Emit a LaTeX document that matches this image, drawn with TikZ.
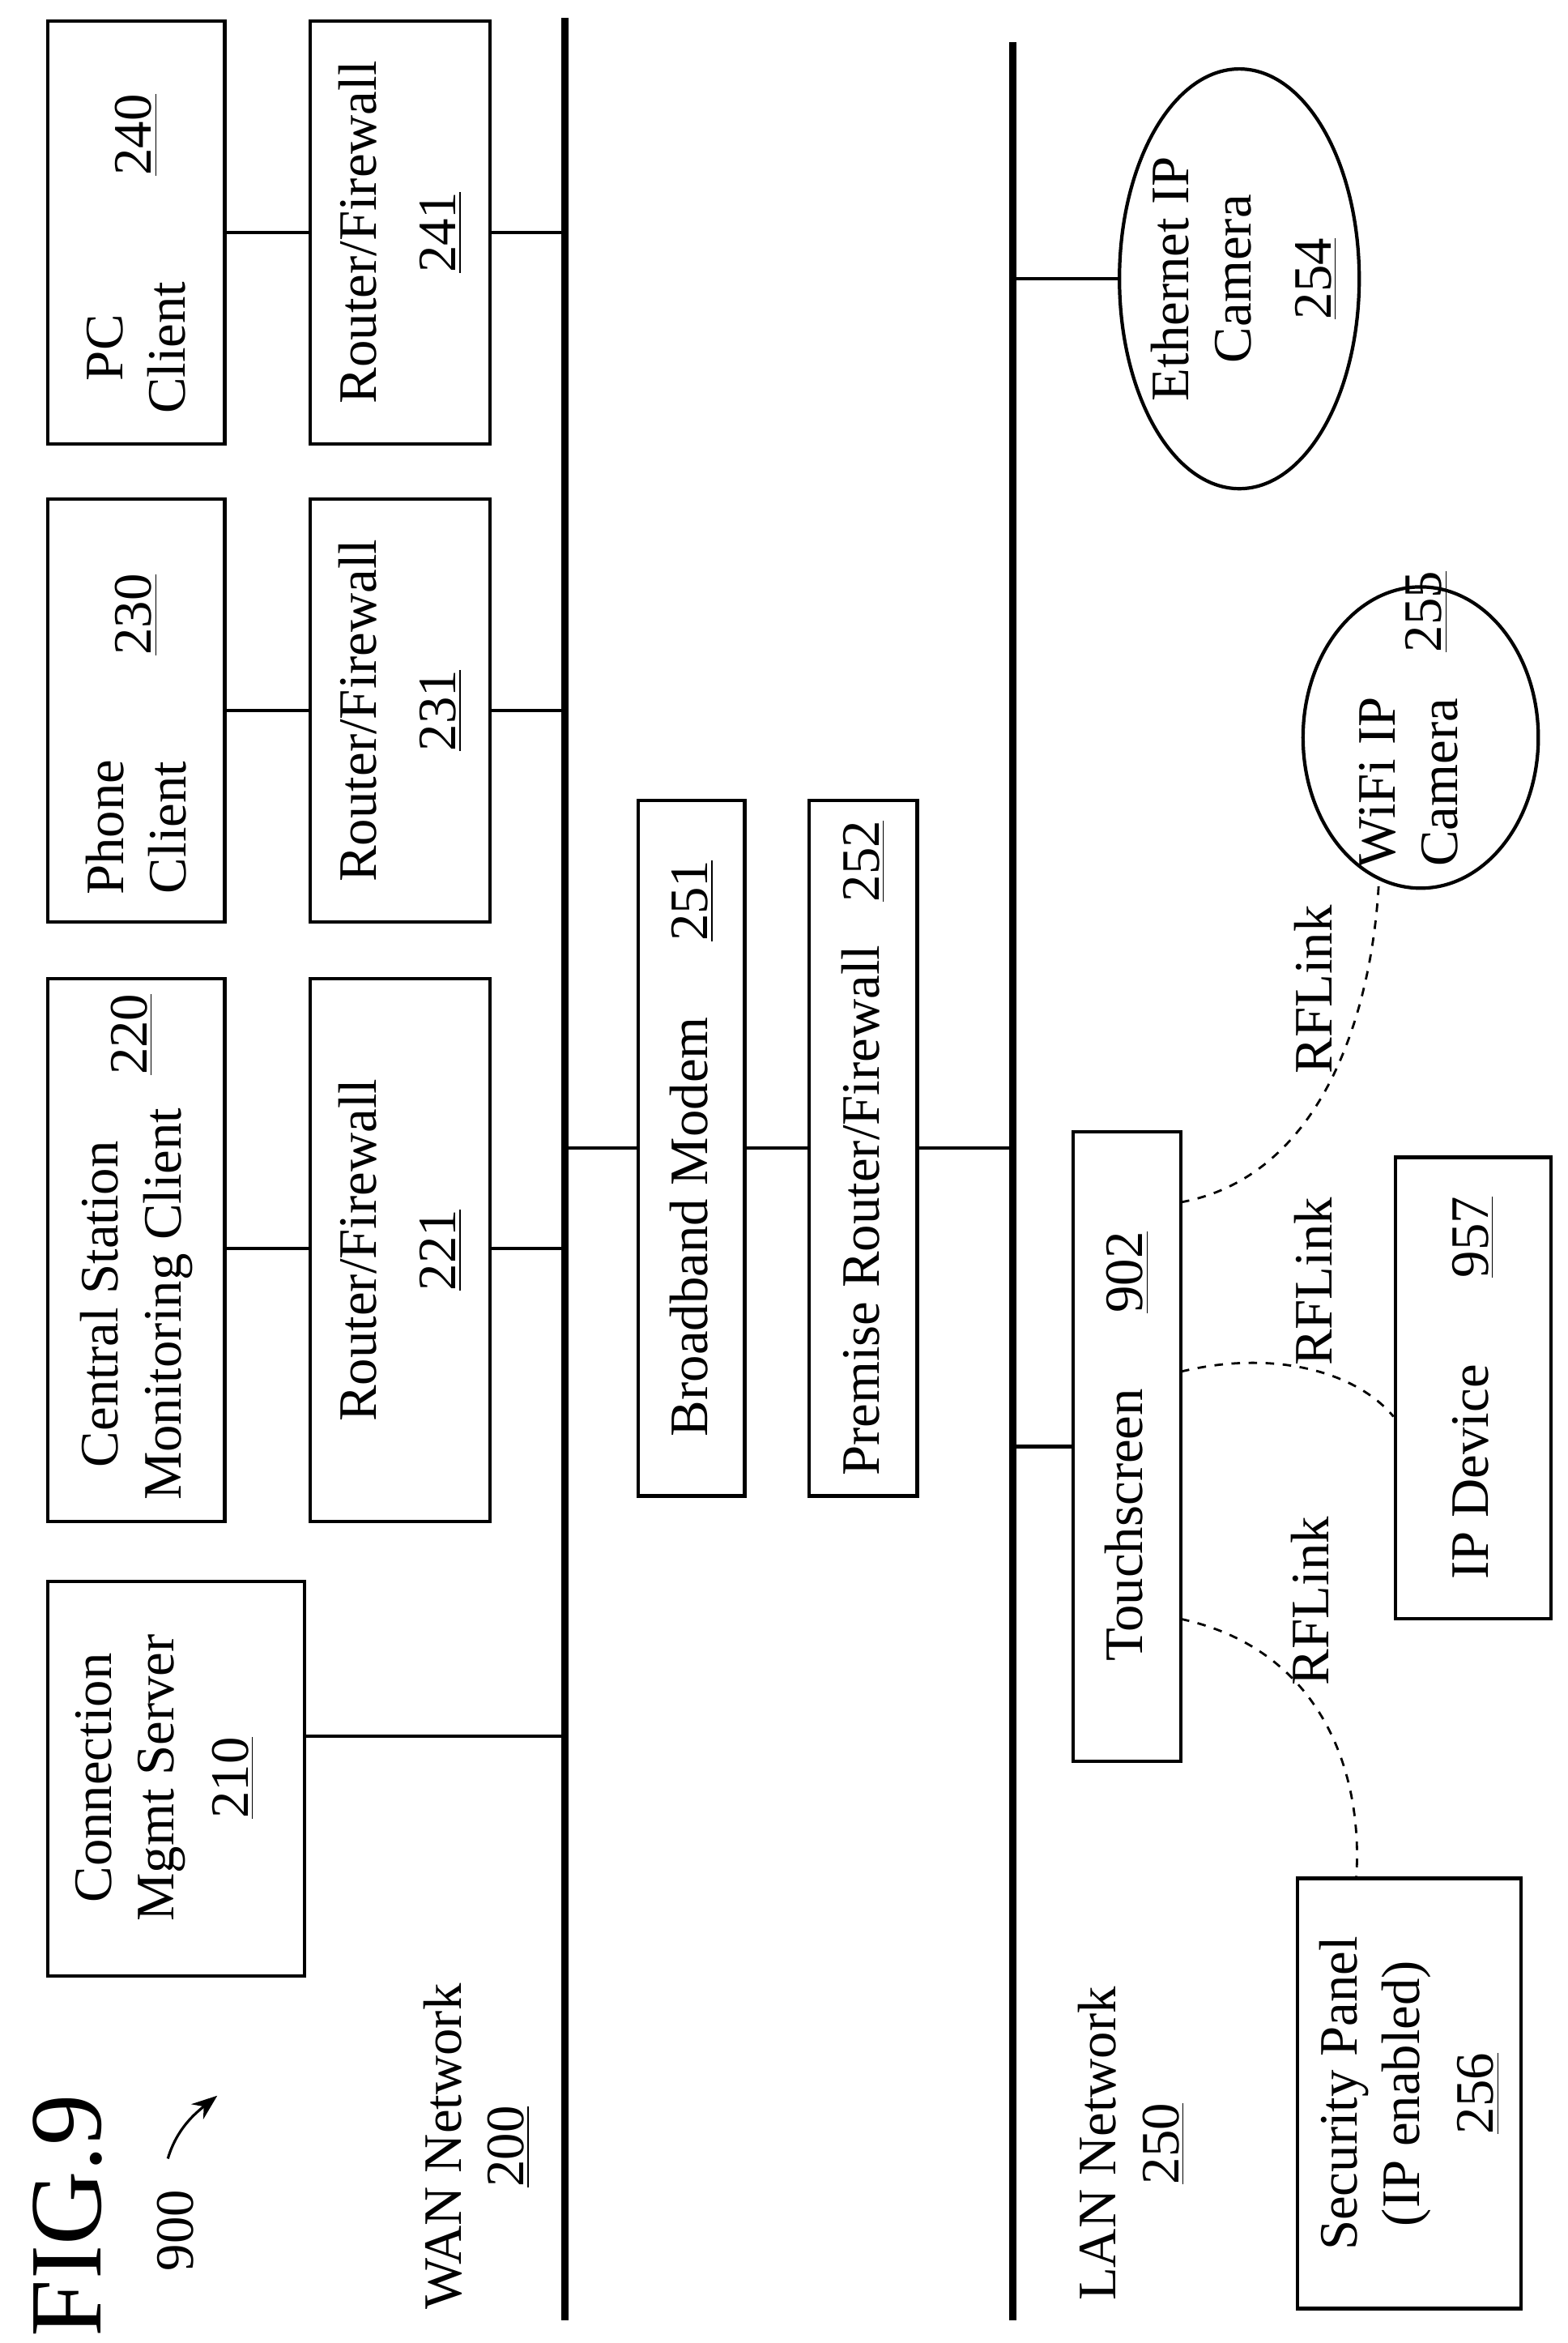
\documentclass[tikz,border=0pt]{standalone}
\usepackage{fontspec}
\setmainfont{Liberation Serif}
\usetikzlibrary{arrows.meta,shapes.geometric}
\def\un{0.0185cm}
\begin{document}
\begin{tikzpicture}[x=0.0185cm,y=-0.0185cm,line width=1.2pt,
 box/.style 2 args={draw,rotate=90,align=center,font=\fontsize{19}{22}\selectfont,inner sep=0pt,minimum width={#1*\un},minimum height={#2*\un}},
 lab/.style={rotate=90,align=center,font=\fontsize{19}{22}\selectfont},
 rf/.style={dashed,line width=0.8pt}]
\useasboundingbox (0,0) rectangle (1046,1563);
% buses
\coordinate (w1) at (377,12); \coordinate (w2) at (377,1548);
\coordinate (l1) at (676,28); \coordinate (l2) at (676,1548);
\draw[line width=2.5pt] (w1) -- (w2);
\draw[line width=2.5pt] (l1) -- (l2);
% boxes
\node[box={263}{171}] (cms) at (117.5,1186.5) {};
\node[lab] at (110,1186) {Connection\\Mgmt Server\\[4pt]\underline{210}};
\node[box={362}{118}] (css) at (91,834) {};
\node[lab] at (91,870) {Central Station\\Monitoring Client};
\node[lab] at (88,690) {\underline{220}};
\node[box={362}{120}] (r221) at (267,834) {Router/Firewall\\[6pt]\underline{221}};
\node[box={282}{118}] (ph) at (91,474) {};
\node[lab] at (91,552) {Phone\\Client};
\node[lab] at (91,410) {\underline{230}};
\node[box={282}{120}] (r231) at (267,474) {Router/Firewall\\[6pt]\underline{231}};
\node[box={282}{118}] (pc) at (91,155) {};
\node[lab] at (91,232) {PC\\Client};
\node[lab] at (91,90) {\underline{240}};
\node[box={282}{120}] (r241) at (267,155) {Router/Firewall\\[6pt]\underline{241}};
\node[box={464}{71}] (bm) at (461.5,766) {Broadband Modem\hspace{1.4em}\underline{251}};
\node[box={464}{72}] (pr) at (576,766) {Premise Router/Firewall\hspace{0.8em}\underline{252}};
\node[box={420}{72}] (ts) at (752,965) {Touchscreen\hspace{1.4em}\underline{902}};
\node[box={308}{104}] (ipd) at (983,926) {IP Device\hspace{1.6em}\underline{957}};
\node[box={287}{149}] (sp) at (940.5,1396.5) {Security Panel\\(IP enabled)\\[4pt]\underline{256}};
\node[draw,ellipse,minimum width={160*\un},minimum height={280*\un},inner sep=0pt] (eth) at (827,186) {};
\node[lab] at (830,186) {Ethernet IP\\Camera\\[6pt]\underline{254}};
\node[draw,ellipse,minimum width={157*\un},minimum height={201*\un},inner sep=0pt] (wifi) at (948,492) {};
\node[lab] at (940,522) {WiFi IP\\Camera};
\node[lab] at (952,408) {\underline{255}};
% connector coordinates
\coordinate (y1158) at (0,1158); \coordinate (y833) at (0,833);
\coordinate (y474) at (0,474); \coordinate (y155) at (0,155);
\coordinate (y766) at (0,766); \coordinate (y965) at (0,965); \coordinate (y186) at (0,186);
\coordinate (y945) at (0,945);
\draw (cms.south |- y1158) -- (w1 |- y1158);
\draw (css.south |- y833) -- (r221.north |- y833);
\draw (r221.south |- y833) -- (w1 |- y833);
\draw (ph.south |- y474) -- (r231.north |- y474);
\draw (r231.south |- y474) -- (w1 |- y474);
\draw (pc.south |- y155) -- (r241.north |- y155);
\draw (r241.south |- y155) -- (w1 |- y155);
\draw (w1 |- y766) -- (bm.north |- y766);
\draw (bm.south |- y766) -- (pr.north |- y766);
\draw (pr.south |- y766) -- (l1 |- y766);
\draw (l1 |- y965) -- (ts.north |- y965);
\draw (l1 |- y186) -- (eth.west |- y186);
% RF links
\coordinate (t1) at (788,802); \coordinate (t2) at (788,915); \coordinate (t3) at (788,1080);
\coordinate (wb) at (920,590); \coordinate (spt) at (905,1253);
\draw[rf] (t1) .. controls (880,785) and (915,680) .. (wb);
\draw[rf] (t2) .. controls (850,900) and (905,915) .. (ipd.north |- y945);
\draw[rf] (t3) .. controls (880,1100) and (910,1180) .. (spt);
\node[lab] (rl1) at (876,660) {RFLink};
\node[lab] (rl2) at (876,855) {RFLink};
\node[lab] (rl3) at (874,1068) {RFLink};
% labels
\node[rotate=90,font=\fontsize{36}{40}\selectfont] (fig) at (45,1478) {FIG.9};
\node[lab] (n900) at (117,1488) {900};
\draw[-{Stealth[length=9pt]},line width=0.9pt] (112,1440) .. controls (118,1420) and (130,1410) .. (145,1398);
\node[lab] (wan) at (318,1432) {WAN Network\\\underline{200}};
\node[lab] (lan) at (755,1430) {LAN Network\\\underline{250}};
\end{tikzpicture}
\end{document}
